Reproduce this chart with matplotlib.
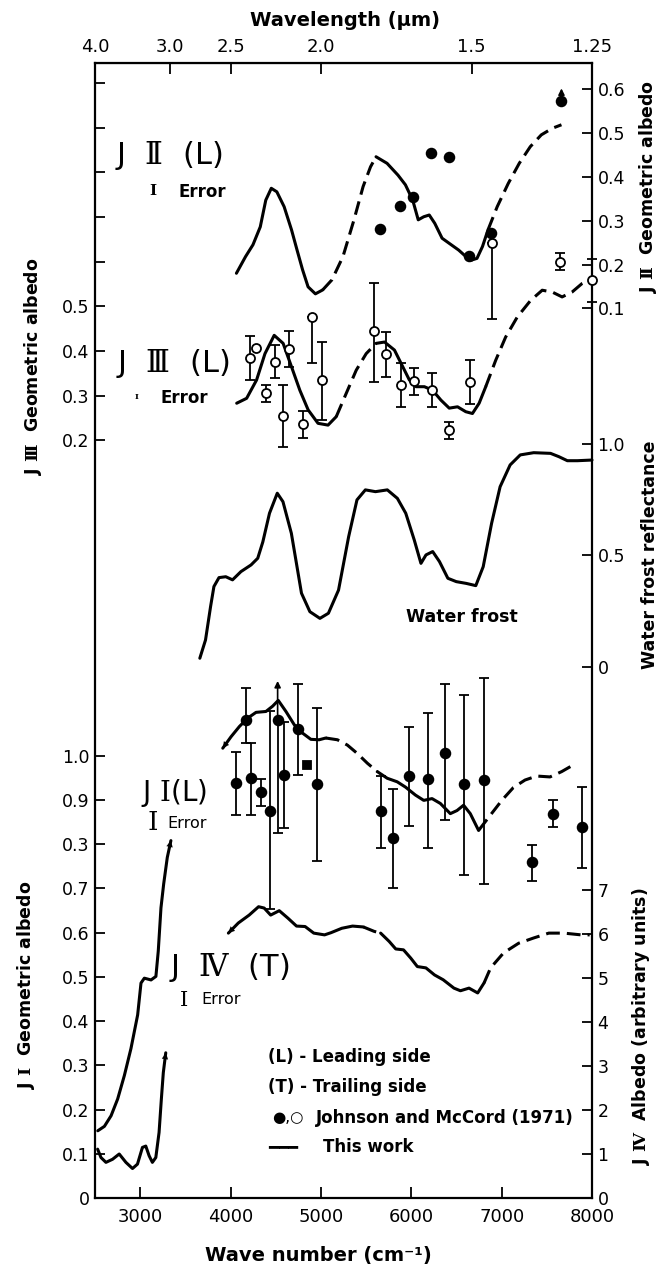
import numpy as np
import matplotlib
matplotlib.use("Agg")
import matplotlib.pyplot as plt

plt.rcParams["mathtext.fontset"] = "custom"
plt.rcParams["mathtext.rm"] = "DejaVu Serif"
plt.rcParams["mathtext.bf"] = "DejaVu Serif:bold"
plt.rcParams["mathtext.it"] = "DejaVu Serif:italic"

# ---------------- data (wave number in cm-1) ----------------
# J II (L) - this work
jii_wn = [4065, 4166, 4248, 4329, 4390, 4451, 4512, 4593, 4675, 4736, 4797, 4858, 4939, 5020,
          5122, 5244, 5366, 5467, 5549, 5610, 5732, 5853, 5935, 6016, 6077, 6138, 6199, 6260,
          6341, 6422, 6524, 6605, 6666, 6727, 6788, 6849, 6951, 7073, 7195, 7317, 7439, 7561, 7662]
jii_val = [0.180, 0.218, 0.245, 0.286, 0.347, 0.374, 0.366, 0.332, 0.279, 0.233, 0.188, 0.149,
           0.133, 0.142, 0.165, 0.218, 0.302, 0.378, 0.423, 0.446, 0.431, 0.404, 0.382, 0.347,
           0.302, 0.309, 0.313, 0.294, 0.260, 0.248, 0.233, 0.218, 0.210, 0.214, 0.241, 0.279,
           0.332, 0.385, 0.431, 0.469, 0.496, 0.511, 0.519]
jii_dashed = [(5020, 5610), (6849, 7700)]
# J II - Johnson and McCord (1971)
jii_pt_wn = [5658, 5874, 6024, 6219, 6422, 6634, 6878, 7662]
jii_pt_val = [0.280, 0.334, 0.353, 0.454, 0.446, 0.219, 0.273, 0.574]
jii_arrow_wn = [7662]
jii_arrow_top = [0.602]

# J III (L) - this work
jiii_wn = [4068, 4178, 4288, 4381, 4483, 4582, 4674, 4767, 4859, 4968, 5079, 5170, 5280, 5391,
           5501, 5611, 5704, 5814, 5905, 5979, 6053, 6145, 6236, 6328, 6420, 6512, 6603, 6677,
           6751, 6824, 6934, 7044, 7173, 7320, 7449, 7559, 7669, 7780, 7890, 7975]
jiii_val = [0.283, 0.294, 0.335, 0.394, 0.435, 0.417, 0.365, 0.312, 0.268, 0.238, 0.234, 0.253,
            0.305, 0.357, 0.394, 0.417, 0.420, 0.402, 0.365, 0.335, 0.320, 0.320, 0.312, 0.290,
            0.272, 0.275, 0.264, 0.260, 0.283, 0.320, 0.379, 0.431, 0.476, 0.513, 0.536, 0.532,
            0.521, 0.532, 0.551, 0.560]
jiii_dashed = [(5170, 5611), (6824, 8000)]
# J III - Johnson and McCord (1971), with error limits
jiii_pt_wn = [4215, 4281, 4392, 4491, 4582, 4649, 4803, 4905, 5016, 5593, 5721, 5891, 6027,
              6225, 6420, 6652, 6890, 7651, 8000]
jiii_pt_val = [0.385, 0.407, 0.306, 0.376, 0.255, 0.405, 0.236, 0.475, 0.335, 0.444, 0.394,
               0.324, 0.333, 0.312, 0.223, 0.331, 0.642, 0.600, 0.560]
jiii_pt_hi = [0.433, 0.407, 0.324, 0.413, 0.324, 0.445, 0.266, 0.475, 0.420, 0.553, 0.443,
              0.372, 0.362, 0.351, 0.242, 0.379, 0.642, 0.620, 0.607]
jiii_pt_lo = [0.336, 0.407, 0.286, 0.339, 0.186, 0.365, 0.205, 0.373, 0.246, 0.331, 0.342,
              0.275, 0.301, 0.274, 0.203, 0.281, 0.471, 0.581, 0.510]

# water frost reflectance
wf_wn = [3660, 3723, 3779, 3816, 3872, 3947, 4022, 4115, 4227, 4301, 4357, 4431, 4517, 4580,
         4673, 4785, 4878, 4989, 5083, 5195, 5307, 5399, 5492, 5604, 5735, 5846, 5939, 6033,
         6107, 6163, 6237, 6312, 6405, 6498, 6609, 6714, 6796, 6889, 6983, 7094, 7206, 7355,
         7541, 7634, 7727, 7839, 8000]
wf_val = [0.038, 0.120, 0.270, 0.360, 0.400, 0.404, 0.390, 0.427, 0.457, 0.487, 0.560, 0.689,
          0.779, 0.741, 0.599, 0.330, 0.247, 0.217, 0.240, 0.344, 0.584, 0.749, 0.794, 0.786,
          0.794, 0.756, 0.689, 0.569, 0.464, 0.502, 0.517, 0.472, 0.397, 0.382, 0.374, 0.364,
          0.449, 0.644, 0.808, 0.906, 0.951, 0.961, 0.958, 0.943, 0.925, 0.925, 0.928]

# J I (L) - this work
ji_wn = [3914, 4006, 4098, 4190, 4282, 4392, 4466, 4528, 4613, 4705, 4797, 4889, 4980, 5054,
         5183, 5293, 5403, 5514, 5624, 5734, 5844, 5936, 6046, 6138, 6230, 6322, 6432, 6506,
         6579, 6653, 6745, 6873, 7002, 7130, 7259, 7388, 7535, 7664, 7792]
ji_val = [1.017, 1.043, 1.066, 1.085, 1.098, 1.100, 1.112, 1.125, 1.100, 1.070, 1.051, 1.037,
          1.036, 1.040, 1.036, 1.024, 1.005, 0.983, 0.964, 0.949, 0.941, 0.929, 0.911, 0.899,
          0.903, 0.892, 0.869, 0.876, 0.888, 0.869, 0.831, 0.865, 0.899, 0.928, 0.945, 0.954,
          0.952, 0.964, 0.979]
ji_dashed = [(5054, 5624), (6745, 7800)]
# J I 3 um band
ji_band_wn = [2531, 2604, 2678, 2751, 2825, 2898, 2972, 3009, 3046, 3120, 3174, 3200, 3230,
              3260, 3300, 3340]
ji_band_val = [0.152, 0.162, 0.186, 0.224, 0.277, 0.338, 0.414, 0.486, 0.497, 0.493, 0.501,
               0.558, 0.656, 0.710, 0.770, 0.808]
# J I - Johnson and McCord (1971)
ji_pt_wn = [4062, 4172, 4223, 4341, 4433, 4521, 4594, 4742, 4955, 5660, 5800, 5972, 6182,
            6369, 6579, 6807, 7333, 7571, 7891]
ji_pt_val = [0.939, 1.081, 0.949, 0.918, 0.876, 1.080, 0.956, 1.060, 0.935, 0.876, 0.813,
             0.954, 0.947, 1.007, 0.935, 0.944, 0.759, 0.869, 0.838]
ji_pt_hi = [1.009, 1.153, 1.028, 0.947, 1.100, 1.080, 1.077, 1.161, 1.108, 0.954, 0.924,
            1.066, 1.097, 1.161, 1.138, 1.176, 0.797, 0.899, 0.929]
ji_pt_lo = [0.867, 1.028, 0.867, 0.886, 0.653, 0.825, 0.836, 0.956, 0.763, 0.792, 0.700,
            0.842, 0.792, 0.854, 0.731, 0.710, 0.717, 0.838, 0.747]
ji_arrow_wn = [4521]
ji_arrow_top = [1.169]
ji_sq_wn = [4844]
ji_sq_val = [0.979]

# J IV (T) - this work (arbitrary units)
jiv_wn = [3976, 4086, 4206, 4310, 4372, 4444, 4539, 4635, 4730, 4825, 4921, 5040, 5112, 5231,
          5350, 5470, 5589, 5661, 5756, 5828, 5914, 5995, 6067, 6162, 6257, 6353, 6472, 6544,
          6639, 6735, 6806, 6878, 7021, 7188, 7355, 7522, 7689, 7880, 7974]
jiv_val = [6.02, 6.25, 6.43, 6.62, 6.59, 6.43, 6.53, 6.36, 6.18, 6.17, 6.02, 5.98, 6.03, 6.13,
           6.18, 6.16, 6.06, 6.02, 5.83, 5.66, 5.64, 5.45, 5.26, 5.23, 5.07, 4.96, 4.77, 4.71,
           4.77, 4.66, 4.89, 5.23, 5.57, 5.79, 5.91, 6.02, 6.02, 5.98, 5.98]
jiv_dashed = [(5470, 5661), (6840, 8000)]
jiv_band_wn = [2529, 2566, 2621, 2694, 2768, 2842, 2915, 2970, 3025, 3062, 3099, 3135, 3173,
               3209, 3234, 3256, 3283]
jiv_band_val = [1.11, 0.92, 0.81, 0.88, 1.00, 0.81, 0.67, 0.77, 1.15, 1.18, 0.96, 0.81, 0.92,
                1.49, 2.24, 2.85, 3.30]

# axes ticks
wn_ticks = [3000, 4000, 5000, 6000, 7000, 8000]
wl_ticks = [4.0, 3.0, 2.5, 2.0, 1.5, 1.25]
wl_labels = ["4.0", "3.0", "2.5", "2.0", "1.5", "1.25"]
jii_ticks = [0.1, 0.2, 0.3, 0.4, 0.5, 0.6]
jiii_ticks = [0.2, 0.3, 0.4, 0.5, 0.6, 0.7, 0.8, 0.9, 1.0]
jiii_labels = ["0.2", "0.3", "0.4", "0.5", "", "", "", "", ""]
wf_ticks = [0, 0.5, 1.0]
wf_labels = ["0", "0.5", "1.0"]
ji_ticks = [0, 0.1, 0.2, 0.3, 0.4, 0.5, 0.6, 0.7, 0.8, 0.9, 1.0]
ji_labels = ["0", "0.1", "0.2", "0.3", "0.4", "0.5", "0.6", "0.7", "0.3", "0.9", "1.0"]
jiv_ticks = [0, 1, 2, 3, 4, 5, 6, 7]

# ---------------- layout (pixels on the 670 x 1274 page) ----------------
W, H = 670, 1274
L, R, T, B = 95, 592, 63, 1198
BOLD = ["Liberation Sans Narrow", "DejaVu Sans"]


def fx(x):
    return x / W


def fy(y):
    return 1 - y / H


fig = plt.figure(figsize=(W / 100, H / 100), dpi=100)
rect = [fx(L), fy(B), (R - L) / W, (B - T) / H]
ax = fig.add_axes(rect)
ax.set_xlim(2500, 8000)
ax.set_ylim(0, 1)
ax.set_yticks([])
ax.set_xticks(wn_ticks)
ax.tick_params(axis="x", direction="in", length=8, width=1.3, labelsize=13, pad=7)
for s in ax.spines.values():
    s.set_linewidth(1.6)


def inv(x):
    x = np.asarray(x, float)
    with np.errstate(divide="ignore"):
        return 1e4 / x


top = ax.secondary_xaxis("top", functions=(inv, inv))
top.set_xticks(wl_ticks)
top.set_xticklabels(wl_labels)
top.tick_params(axis="x", direction="in", length=8, width=1.3, labelsize=13, pad=5)


def layer(v1, y1, v2, y2, side, ticks, labels=None):
    # an overlay axes whose y scale puts value v1 at pixel y1 and v2 at y2
    a = fig.add_axes(rect, sharex=ax)
    a.patch.set_visible(False)
    k = (y2 - y1) / (v1 - v2)
    a.set_ylim(v1 - (B - y1) / k, v1 + (y1 - T) / k)
    for s in a.spines.values():
        s.set_visible(False)
    a.tick_params(axis="x", which="both", bottom=False, top=False,
                  labelbottom=False, labeltop=False)
    if side == "right":
        a.yaxis.tick_right()
    a.set_yticks(ticks)
    if labels is not None:
        a.set_yticklabels(labels)
    a.tick_params(axis="y", direction="in", length=7, width=1.3, labelsize=12.5, pad=4)
    return a


def curve(a, wn, val, dashed=()):
    wn = np.asarray(wn, float)
    val = np.asarray(val, float)
    mid = (wn[:-1] + wn[1:]) / 2
    isd = np.zeros(len(mid), bool)
    for lo, hi in dashed:
        isd |= (mid > lo) & (mid < hi)
    start = 0
    for i in range(1, len(mid) + 1):
        if i == len(mid) or isd[i] != isd[start]:
            ls = (0, (4.5, 2.3)) if isd[start] else "-"
            a.plot(wn[start:i + 1], val[start:i + 1], color="k", lw=2.2, ls=ls,
                   solid_capstyle="round", solid_joinstyle="round", clip_on=False)
            start = i


def head(a, wn, val, at_end=True):
    if at_end:
        tip, tail = (wn[-1], val[-1]), (wn[-2], val[-2])
    else:
        tip, tail = (wn[0], val[0]), (wn[1], val[1])
    a.annotate("", xy=tip, xytext=tail,
               arrowprops=dict(arrowstyle="-|>", color="k", lw=0.1, mutation_scale=11,
                               shrinkA=0, shrinkB=0))


def points(a, wn, val, lo=None, hi=None, filled=True, marker="o", ms=7):
    wn = np.asarray(wn, float)
    val = np.asarray(val, float)
    if lo is not None:
        lo = np.asarray(lo, float)
        hi = np.asarray(hi, float)
        m = (hi - lo) > 0
        a.errorbar(wn[m], val[m], yerr=[val[m] - lo[m], hi[m] - val[m]], fmt="none",
                   ecolor="k", elinewidth=1.3, capsize=3.5, capthick=1.3, clip_on=False)
    a.plot(wn, val, ls="none", marker=marker, ms=ms, mfc="k" if filled else "white",
           mec="k", mew=1.3, zorder=5, clip_on=False)


def up_arrows(a, wn, base, tip):
    for w, b, t in zip(wn, base, tip):
        a.annotate("", xy=(w, t), xytext=(w, b),
                   arrowprops=dict(arrowstyle="-|>", color="k", lw=1.2, mutation_scale=9,
                                   shrinkA=0, shrinkB=0))


# J II (right axis, top)
a2 = layer(0.6, 89.3, 0.1, 308.3, "right", jii_ticks)
curve(a2, jii_wn, jii_val, jii_dashed)
points(a2, jii_pt_wn, jii_pt_val)
up_arrows(a2, jii_arrow_wn, [jii_pt_val[-1]], jii_arrow_top)

# J III (left axis, top)
a3 = layer(0.5, 306.3, 0.2, 440.3, "left", jiii_ticks, jiii_labels)
curve(a3, jiii_wn, jiii_val, jiii_dashed)
points(a3, jiii_pt_wn, jiii_pt_val, jiii_pt_lo, jiii_pt_hi, filled=False, ms=6.5)

# water frost (right axis, middle)
af = layer(1.0, 444, 0.0, 666.7, "right", wf_ticks, wf_labels)
curve(af, wf_wn, wf_val)

# J I (left axis, bottom)
a1 = layer(1.0, 755.7, 0.0, 1198, "left", ji_ticks, ji_labels)
curve(a1, ji_wn, ji_val, ji_dashed)
head(a1, ji_wn, ji_val, at_end=False)
curve(a1, ji_band_wn, ji_band_val)
head(a1, ji_band_wn, ji_band_val)
points(a1, ji_pt_wn, ji_pt_val, ji_pt_lo, ji_pt_hi)
up_arrows(a1, ji_arrow_wn, [ji_pt_val[5]], ji_arrow_top)
points(a1, ji_sq_wn, ji_sq_val, marker="s", ms=6)

# J IV (right axis, bottom)
a4 = layer(7, 890, 0, 1198, "right", jiv_ticks)
curve(a4, jiv_wn, jiv_val, jiv_dashed)
head(a4, jiv_wn, jiv_val, at_end=False)
curve(a4, jiv_band_wn, jiv_band_val)
head(a4, jiv_band_wn, jiv_band_val)

# ---------------- texts ----------------
fig.text(fx(345), fy(21), "Wavelength (μm)", ha="center", va="center", fontsize=14,
         fontweight="bold", family=BOLD)
fig.text(fx(318), fy(1255), "Wave number (cm⁻¹)", ha="center", va="center",
         fontsize=14, fontweight="bold", family=BOLD)
ylab = dict(rotation=90, ha="center", va="center", fontsize=12.5, fontweight="bold",
            family=BOLD)
fig.text(fx(648), fy(187), r"J $\mathbf{Ⅱ}$  Geometric albedo", **ylab)
fig.text(fx(650), fy(555), "Water frost reflectance", **ylab)
fig.text(fx(641), fy(1026), r"J $\mathbf{Ⅳ}$  Albedo (arbitrary units)", **ylab)
fig.text(fx(33), fy(366), r"J $\mathbf{Ⅲ}$  Geometric albedo", **ylab)
fig.text(fx(26), fy(985), r"J $\mathbf{Ⅰ}$  Geometric albedo", **ylab)

big = dict(va="center", ha="left", fontsize=22, family="DejaVu Sans")
fig.text(fx(115), fy(155), r"J  $\mathrm{Ⅱ}$  (L)", **big)
fig.text(fx(116), fy(363), r"J  $\mathrm{Ⅲ}$  (L)", **big)
fig.text(fx(141), fy(793), r"J $\mathrm{Ⅰ}$(L)", **dict(big, fontsize=20))
fig.text(fx(169), fy(967), r"J  $\mathrm{Ⅳ}$  (T)", **big)

err = dict(va="center", ha="center", family="DejaVu Serif")
fig.text(fx(153), fy(191), "I", fontsize=11, fontweight="bold", **err)
fig.text(fx(179), fy(192), "Error", fontsize=12, fontweight="bold", va="center", family=BOLD)
fig.text(fx(137), fy(397), "I", fontsize=6, fontweight="bold", **err)
fig.text(fx(160), fy(398), "Error", fontsize=12, fontweight="bold", va="center", family=BOLD)
fig.text(fx(153), fy(823), "I", fontsize=19, **err)
fig.text(fx(167), fy(823), "Error", fontsize=11.5, va="center", family=BOLD)
fig.text(fx(184), fy(1000), "I", fontsize=15, **err)
fig.text(fx(201), fy(1000), "Error", fontsize=11.5, va="center", family=BOLD)

fig.text(fx(462), fy(617), "Water frost", ha="center", va="center", fontsize=12.5,
         fontweight="bold", family=BOLD)

leg = dict(va="center", ha="left", fontsize=12, fontweight="bold", family=BOLD)
fig.text(fx(268), fy(1057), "(L) - Leading side", **leg)
fig.text(fx(268), fy(1087), "(T) - Trailing side", **leg)
fig.text(fx(272), fy(1118), "●,○", va="center", ha="left", fontsize=11, family="DejaVu Sans")
fig.text(fx(316), fy(1118), "Johnson and McCord (1971)", **leg)
fig.text(fx(268), fy(1147), "━━━", va="center", ha="left", fontsize=12, family="DejaVu Sans")
fig.text(fx(323), fy(1147), "This work", **leg)

fig.savefig("out.png", dpi=100)
